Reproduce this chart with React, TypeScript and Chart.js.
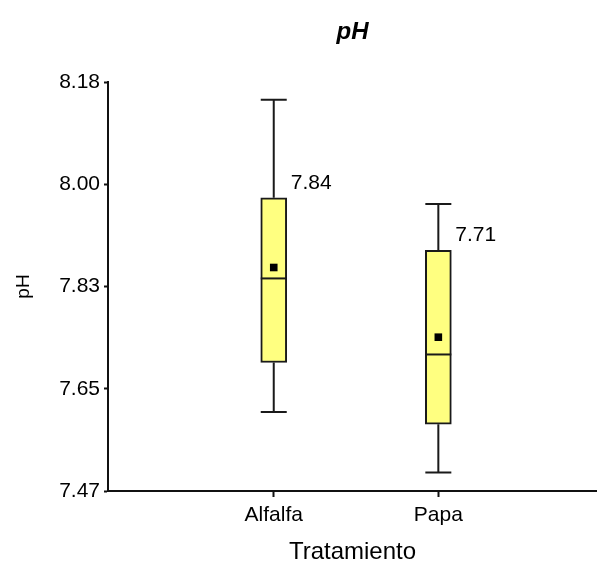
import React, { useEffect, useRef } from "react";
import { Chart, registerables } from "chart.js";

Chart.register(...registerables);

const categories = ["Alfalfa", "Papa"];
const whiskerMin = [7.607, 7.502];
const q1 = [7.693, 7.586];
const median = [7.839, 7.707];
const q3 = [7.979, 7.888];
const whiskerMax = [8.149, 7.968];
const mean = [7.858, 7.737];
const yTickLabels = ["7.47", "7.65", "7.83", "8.00", "8.18"];
const yMin = 7.47;
const yMax = 8.18;

const FONT = "'Liberation Sans', Arial, sans-serif";
const BOX_HALF = 13;
const MEAN_SIZE = 7.6;
const LINE_W = 2;

const boxPlugin = {
  id: "boxExtras",
  beforeDatasetsDraw(chart: any) {
    const { ctx, scales } = chart;
    const xs = scales.x;
    const ys = scales.y;
    ctx.save();
    ctx.strokeStyle = "#1a1a1a";
    ctx.lineWidth = LINE_W;
    categories.forEach((_, i) => {
      const cx = xs.getPixelForValue(i + 1);
      const yTop = ys.getPixelForValue(whiskerMax[i]);
      const yQ3 = ys.getPixelForValue(q3[i]);
      const yQ1 = ys.getPixelForValue(q1[i]);
      const yBot = ys.getPixelForValue(whiskerMin[i]);
      ctx.beginPath();
      ctx.moveTo(cx, yTop);
      ctx.lineTo(cx, yQ3);
      ctx.moveTo(cx, yQ1);
      ctx.lineTo(cx, yBot);
      ctx.moveTo(cx - BOX_HALF, yTop);
      ctx.lineTo(cx + BOX_HALF, yTop);
      ctx.moveTo(cx - BOX_HALF, yBot);
      ctx.lineTo(cx + BOX_HALF, yBot);
      ctx.stroke();
    });
    ctx.restore();
  },
  afterDatasetsDraw(chart: any) {
    const { ctx, scales } = chart;
    const xs = scales.x;
    const ys = scales.y;
    ctx.save();
    ctx.strokeStyle = "#1a1a1a";
    ctx.lineWidth = LINE_W;
    categories.forEach((_, i) => {
      const cx = xs.getPixelForValue(i + 1);
      const ym = ys.getPixelForValue(median[i]);
      ctx.beginPath();
      ctx.moveTo(cx - BOX_HALF, ym);
      ctx.lineTo(cx + BOX_HALF, ym);
      ctx.stroke();
      const yMean = ys.getPixelForValue(mean[i]);
      ctx.fillStyle = "#000";
      ctx.fillRect(cx - MEAN_SIZE / 2, yMean - MEAN_SIZE / 2, MEAN_SIZE, MEAN_SIZE);
      const yQ3 = ys.getPixelForValue(q3[i]);
      ctx.font = `21px ${FONT}`;
      ctx.textAlign = "left";
      ctx.textBaseline = "alphabetic";
      ctx.fillText(median[i].toFixed(2), cx + BOX_HALF + 4, yQ3 - 9);
    });
    ctx.restore();
  },
};

export default function App() {
  const ref = useRef<HTMLCanvasElement | null>(null);

  useEffect(() => {
    if (!ref.current) return;
    const chart = new Chart(ref.current, {
      type: "bar",
      data: {
        datasets: [
          {
            type: "bar",
            data: categories.map((_, i) => ({ x: i + 1, y: [q1[i], q3[i]] })) as any,
            backgroundColor: "#ffff80",
            borderColor: "#1a1a1a",
            borderWidth: LINE_W,
            borderSkipped: false,
            barThickness: BOX_HALF * 2,
          } as any,
        ],
      },
      options: {
        responsive: false,
        animation: false,
        layout: { padding: { left: 0, right: 0, top: 0, bottom: 0 } },
        plugins: {
          legend: { display: false },
          tooltip: { enabled: false },
          title: {
            display: true,
            fullSize: false,
            text: "pH",
            color: "#000",
            font: { family: FONT, size: 24, weight: "bold", style: "italic", lineHeight: 1.2 },
            padding: { top: 18, bottom: 35.2 },
          },
        },
        scales: {
          x: {
            type: "linear",
            min: -0.007,
            max: 2.964,
            offset: false,
            afterBuildTicks(scale: any) {
              scale.ticks = categories.map((_, i) => ({ value: i + 1 }));
            },
            afterFit(scale: any) {
              scale.height = 70;
              scale.paddingLeft = 0;
              scale.paddingRight = 0;
            },
            ticks: {
              callback: (v: any) => categories[Math.round(Number(v)) - 1] ?? "",
              color: "#000",
              font: { family: FONT, size: 21 },
              padding: 6,
              maxRotation: 0,
              autoSkip: false,
            },
            grid: {
              offset: false,
              drawOnChartArea: false,
              drawTicks: true,
              tickLength: 6,
              tickWidth: 2,
              tickColor: "#111",
            },
            border: { display: true, color: "#111", width: 2 },
            title: {
              display: true,
              text: "Tratamiento",
              color: "#000",
              font: { family: FONT, size: 24, lineHeight: 1.0 },
              padding: { top: 0, bottom: -3 },
            },
          },
          y: {
            type: "linear",
            min: yMin,
            max: yMax,
            afterBuildTicks(scale: any) {
              scale.ticks = yTickLabels.map((_, i) => ({
                value: yMin + (i * (yMax - yMin)) / (yTickLabels.length - 1),
              }));
            },
            afterFit(scale: any) {
              scale.width = 108;
              scale.paddingTop = 0;
              scale.paddingBottom = 0;
            },
            ticks: {
              callback: (_v: any, idx: number) => yTickLabels[idx],
              color: "#000",
              font: { family: FONT, size: 21 },
              padding: 4,
            },
            grid: {
              drawOnChartArea: false,
              drawTicks: true,
              tickLength: 4,
              tickWidth: 2,
              tickColor: "#111",
            },
            border: { display: true, color: "#111", width: 2 },
            title: {
              display: true,
              text: "pH",
              color: "#000",
              font: { family: FONT, size: 19, lineHeight: 1.2 },
              padding: { top: 12, bottom: 0 },
            },
          },
        },
      } as any,
      plugins: [boxPlugin],
    });
    return () => chart.destroy();
  }, []);

  return (
    <div style={{ position: "fixed", left: 0, top: 0, width: 597, height: 561 }}>
      <canvas ref={ref} width={597} height={561} style={{ display: "block", width: 597, height: 561 }} />
    </div>
  );
}
